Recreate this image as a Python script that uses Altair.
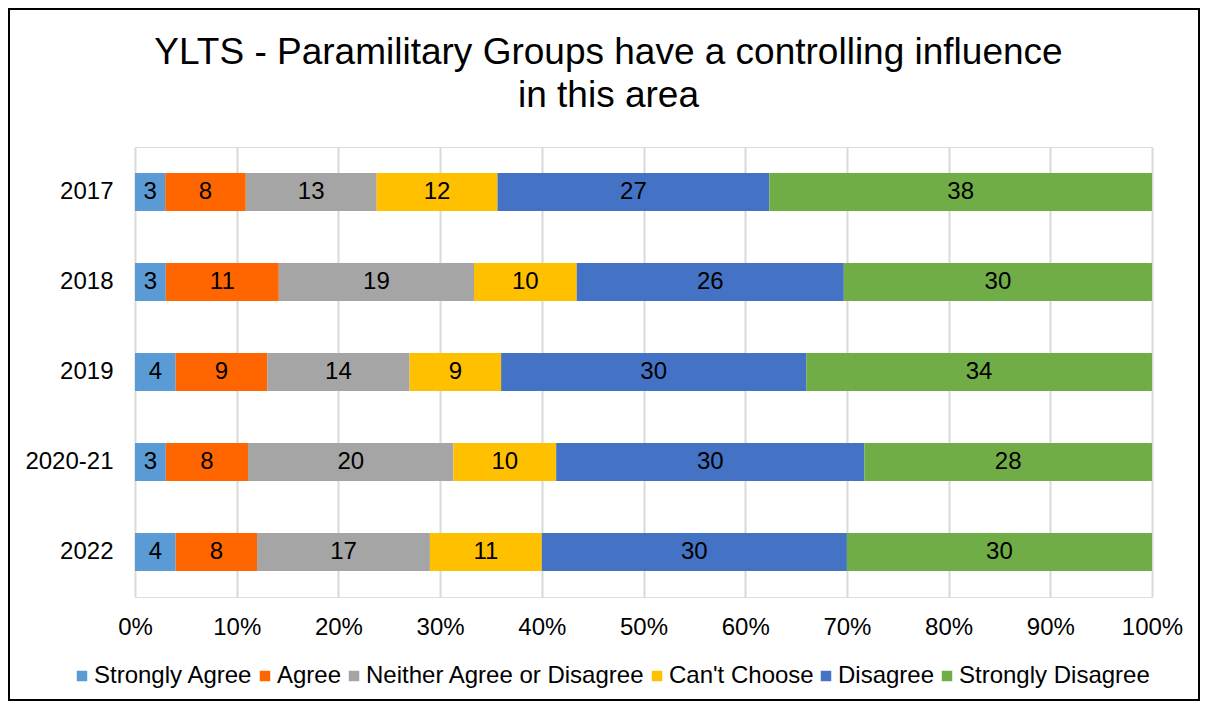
import altair as alt
import pandas as pd

years = ["2017", "2018", "2019", "2020-21", "2022"]
categories = ["Strongly Agree", "Agree", "Neither Agree or Disagree",
              "Can't Choose", "Disagree", "Strongly Disagree"]
strongly_agree = [3, 3, 4, 3, 4]
agree = [8, 11, 9, 8, 8]
neither = [13, 19, 14, 20, 17]
cant_choose = [12, 10, 9, 10, 11]
disagree = [27, 26, 30, 30, 30]
strongly_disagree = [38, 30, 34, 28, 30]
colors = ["#5B9BD5", "#FF6600", "#A5A5A5", "#FFC000", "#4472C4", "#70AD47"]

series = [strongly_agree, agree, neither, cant_choose, disagree, strongly_disagree]
rows = []
for ci, (cat, vals) in enumerate(zip(categories, series)):
    for yr, v in zip(years, vals):
        rows.append({"year": yr, "category": cat, "value": v, "order": ci})
df = pd.DataFrame(rows)

FONT = "Liberation Sans"
FS = 24
W, H = 1017, 450
PL, PT, PR, PB = 127, 139, 48, 104

base = alt.Chart(df).transform_stack(
    stack="value", as_=["v0", "v1"], groupby=["year"],
    sort=[alt.SortField("order", "ascending")], offset="normalize"
).transform_calculate(mid="(datum.v0 + datum.v1) / 2")

y_enc = alt.Y("year:N", sort=years, title=None,
              scale=alt.Scale(paddingInner=0.578, paddingOuter=0.289),
              axis=alt.Axis(domain=False, ticks=False, labelPadding=22,
                            labelFontSize=FS, labelFont=FONT, labelColor="#000000",
                            grid=False))

bars = base.mark_bar().encode(
    y=y_enc,
    x=alt.X("v0:Q", title=None,
            scale=alt.Scale(domain=[0, 1], nice=False),
            axis=alt.Axis(format="%", values=[i / 10 for i in range(11)],
                          domain=False, ticks=False, labelPadding=18,
                          labelFlush=False, labelOverlap=False,
                          labelFontSize=FS, labelFont=FONT, labelColor="#000000",
                          grid=True, gridColor="#D9D9D9", gridWidth=2)),
    x2="v1:Q",
    color=alt.Color("category:N", sort=categories,
                    scale=alt.Scale(domain=categories, range=colors),
                    legend=alt.Legend(title=None, orient="none", direction="horizontal",
                                      legendX=-65, legendY=517,
                                      symbolType="square", symbolSize=110,
                                      symbolStrokeWidth=0, labelFontSize=FS,
                                      labelFont=FONT, labelColor="#000000",
                                      labelOffset=0, columnPadding=0,
                                      labelLimit=500, columns=6)),
    order=alt.Order("order:Q"),
)

labels = base.mark_text(font=FONT, fontSize=FS, color="#000000").encode(
    y=alt.Y("year:N", sort=years),
    x=alt.X("mid:Q"),
    text=alt.Text("value:Q"),
)

frame = alt.Chart(pd.DataFrame({"a": [0]})).mark_rect(
    filled=False, stroke="#000000", strokeWidth=2, clip=False
).encode(
    x=alt.value(-PL + 1), x2=alt.value(W + PR - 1),
    y=alt.value(-PT + 1), y2=alt.value(H + PB - 1),
)

chart = alt.layer(bars, labels, frame).properties(
    width=W, height=H,
    padding={"left": PL, "top": PT, "right": PR, "bottom": PB},
    autosize=alt.AutoSizeParams(type="none"),
    title=alt.TitleParams(
        ["YLTS - Paramilitary Groups have a controlling influence", "in this area"],
        fontSize=37, font=FONT, fontWeight="normal", color="#000000",
        anchor="middle", frame="group", dx=-35, offset=0, dy=107,
        baseline="top", lineHeight=43,
    ),
).configure_view(stroke=None).configure(background="#FFFFFF")

chart.save("out.html", embed_options={"renderer": "svg", "actions": False})
